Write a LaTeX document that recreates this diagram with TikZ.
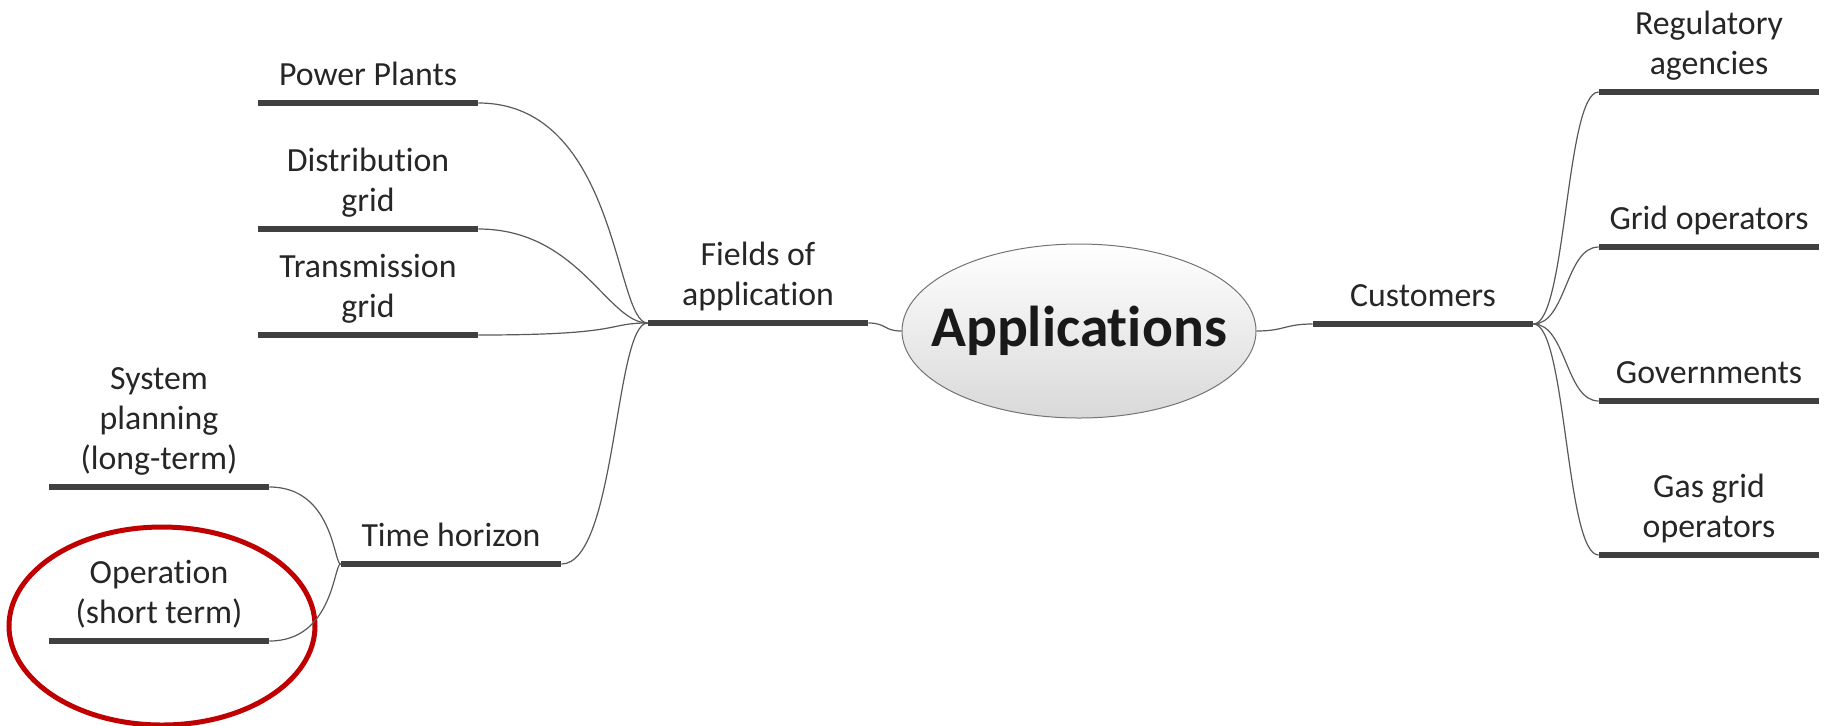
\documentclass[tikz,border=0pt]{standalone}
\usepackage{fontspec}
\setmainfont{Carlito}[Ligatures=NoCommon]
\usetikzlibrary{shapes.geometric}
\definecolor{markred}{RGB}{192,0,0}

\begin{document}
\begin{tikzpicture}
[x=0.5pt, y=-0.5pt,
bar/.style={rectangle, inner sep=0pt, minimum width=110pt, minimum height=2.6pt, fill=black!75},
link/.style={draw=black!65, line width=0.6pt}
]
\tikzset{every label/.style={font=\fontsize{16.9}{20}\selectfont, text=black!85, align=center,
                             inner sep=0pt, execute at end node=\strut},
         label distance=1pt}
\useasboundingbox (0,0) rectangle (1829,725);
% centre
\node[ellipse, draw=black!55, line width=0.5pt, top color=white, bottom color=black!15,
      minimum width=177pt, minimum height=87pt, inner sep=0pt] (app) at (1079,331) {};
\node[font=\fontsize{28.8}{34}\selectfont\bfseries, text=black!90] (apptext) at (app) {Applications};
% left side
\node[bar, label={above:{Fields of\\application}}] (fields) at (758,323) {};
\node[bar, label={above:Power Plants}] (plants) at (368,103) {};
\node[bar, label={above:{Distribution\\grid}}] (distr) at (368,229) {};
\node[bar, label={above:{Transmission\\grid}}] (trans) at (368,335) {};
\node[bar, label={above:Time horizon}] (horizon) at (451,564) {};
\node[bar, label={above:{System\\planning\\(long-term)}}] (planning) at (159,487) {};
\node[bar, label={above:{Operation\\(short term)}}] (operation) at (159,641) {};
% right side
\node[bar, label={above:Customers}] (cust) at (1423,324) {};
\node[bar, label={above:{Regulatory\\agencies}}] (reg) at (1709,92) {};
\node[bar, label={above:Grid operators}] (gridop) at (1709,247) {};
\node[bar, label={above:Governments}] (gov) at (1709,401) {};
\node[bar, label={above:{Gas grid\\operators}}] (gasop) at (1709,555) {};
% highlight
\node[ellipse, draw=markred, line width=2.5pt, minimum width=153pt, minimum height=99pt] (mark) at (162,626) {};

\draw[link] (fields.east) .. controls +(18,0) and +(-18,0) .. (app.west);
\draw[link] (app.east) .. controls +(28,0) and +(-28,0) .. (cust.west);
\draw[link] (plants.east) .. controls +(140,0) and +(-33,0) .. (fields.west);
\draw[link] (distr.east) .. controls +(100,0) and +(-40,0) .. (fields.west);
\draw[link] (trans.east) .. controls +(148,0) and +(-43,0) .. (fields.west);
\draw[link] (horizon.east) .. controls +(55,0) and +(-33,0) .. (fields.west);
\foreach \n in {planning,operation}
    \draw[link] (\n.east) .. controls +(64,0) and +(-7,0) .. (horizon.west);
\foreach \n in {reg,gridop,gov,gasop}
    \draw[link] (cust.east) .. controls +(33,0) and +(-33,0) .. (\n.west);
\end{tikzpicture}
\end{document}
